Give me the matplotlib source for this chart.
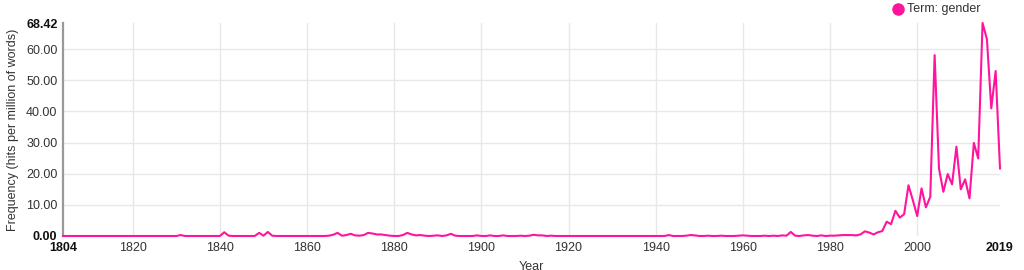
import matplotlib.pyplot as plt

plt.rcParams['font.family'] = ['Liberation Sans', 'DejaVu Sans']

# frequency of "gender", hits per million words, one value per year 1804-2019
years = list(range(1804, 2020))
freq = [
    0, 0, 0, 0, 0, 0,                                        # 1804-1809
    0, 0, 0, 0, 0, 0, 0, 0, 0, 0,                            # 1810s
    0, 0, 0, 0, 0, 0, 0, 0, 0, 0,                            # 1820s
    0, 0.3, 0, 0, 0, 0, 0, 0, 0, 0,                          # 1830s
    0, 1.2, 0.1, 0, 0, 0, 0, 0, 0, 1.0,                      # 1840s
    0.1, 1.3, 0.1, 0, 0, 0, 0, 0, 0, 0,                      # 1850s
    0, 0, 0, 0, 0, 0.1, 0.4, 1.0, 0.1, 0.3,                  # 1860s
    0.7, 0.2, 0.1, 0.3, 1.0, 0.8, 0.5, 0.5, 0.3, 0.1,        # 1870s
    0, 0, 0.3, 1.0, 0.5, 0.2, 0.3, 0.1, 0, 0.1,              # 1880s
    0.2, 0, 0.2, 0.7, 0.1, 0, 0, 0, 0, 0.2,                  # 1890s
    0, 0, 0.2, 0, 0, 0.2, 0, 0, 0, 0.1,                      # 1900s
    0, 0.1, 0.4, 0.2, 0.2, 0, 0.1, 0, 0, 0,                  # 1910s
    0, 0, 0, 0, 0, 0, 0, 0, 0, 0,                            # 1920s
    0, 0, 0, 0, 0, 0, 0, 0, 0, 0,                            # 1930s
    0, 0, 0, 0.3, 0, 0, 0, 0.1, 0.3, 0.2,                    # 1940s
    0, 0, 0.1, 0, 0, 0.1, 0, 0, 0, 0.1,                      # 1950s
    0.2, 0.1, 0, 0, 0, 0.1, 0, 0.1, 0, 0.2,                  # 1960s
    0.1, 1.3, 0.1, 0, 0.2, 0.3, 0.1, 0, 0.2, 0,              # 1970s
    0.1, 0.1, 0.2, 0.3, 0.3, 0.3, 0.2, 0.5, 1.5, 1.1,        # 1980s
    0.5, 1.2, 1.6, 4.6, 3.8, 8.1, 5.9, 7.0, 16.3, 11.5,      # 1990s
    6.4, 15.3, 9.2, 12.6, 58.1, 21.7, 14.2, 19.9, 16.6, 28.7,  # 2000s
    15.0, 18.2, 12.1, 29.9, 24.9, 68.42, 63.2, 41.0, 53.0, 21.7,  # 2010s
]

y_ticks = [0, 10, 20, 30, 40, 50, 60, 68.42]
x_ticks = [1804, 1820, 1840, 1860, 1880, 1900, 1920, 1940, 1960, 1980, 2000, 2019]

pink = '#ff149d'

fig = plt.figure(figsize=(10.24, 2.7), dpi=100)
ax = fig.add_axes([63/1024, 1 - 236/270, (1000 - 63)/1024, (236 - 23)/270])

ax.plot(years, freq, color=pink, lw=1.5, clip_on=False, zorder=3)

ax.set_xlim(1804, 2019)
ax.set_ylim(0, 68.42)
ax.set_xticks(x_ticks)
ax.set_xticklabels([str(t) for t in x_ticks])
ax.set_yticks(y_ticks)
ax.set_yticklabels(['%.2f' % t for t in y_ticks])
ax.tick_params(length=0, labelsize=9, colors='#333333', pad=4)
ax.tick_params(axis='x', pad=4)

for lab in (ax.get_xticklabels()[0], ax.get_xticklabels()[-1],
            ax.get_yticklabels()[0], ax.get_yticklabels()[-1]):
    lab.set_fontweight('bold')
    lab.set_color('#111111')

ax.grid(True, color='#e8e8e8', lw=1)
for g in (ax.xaxis.get_gridlines()[0], ax.xaxis.get_gridlines()[-1],
          ax.yaxis.get_gridlines()[0], ax.yaxis.get_gridlines()[-1]):
    g.set_visible(False)
ax.set_axisbelow(True)

for s in ('top', 'right', 'bottom'):
    ax.spines[s].set_visible(False)
ax.spines['left'].set_color('#999999')
ax.spines['left'].set_linewidth(1.6)

ax.set_ylabel('Frequency (hits per million of words)', fontsize=9, color='#333333', labelpad=5)
ax.set_xlabel('Year', fontsize=9, color='#333333', labelpad=5)

# legend in top right corner
fig.text(907/1024, 1 - 9/270, 'Term: gender', fontsize=9, color='#333333', va='center', ha='left')
ax.plot([898/1024], [1 - 9/270], 'o', color=pink, ms=8, transform=fig.transFigure, clip_on=False)

fig.savefig('out.png', dpi=100)
